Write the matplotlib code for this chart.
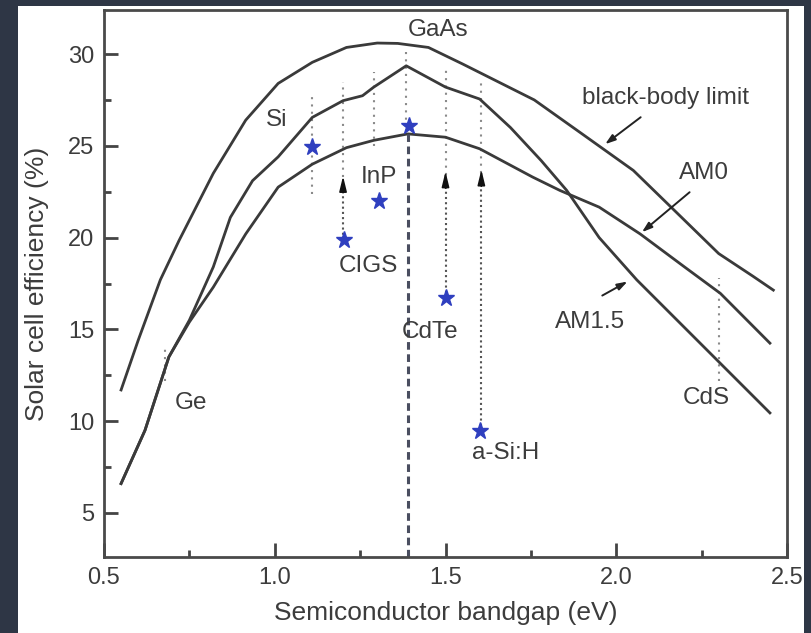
import matplotlib
matplotlib.use('Agg')
import matplotlib.pyplot as plt
from matplotlib.patches import Rectangle
from matplotlib.ticker import MultipleLocator

plt.rcParams['font.family'] = ['Liberation Sans', 'DejaVu Sans']

# efficiency limits vs bandgap
bb_x = [0.55, 0.60, 0.665, 0.72, 0.82, 0.915, 1.01, 1.11, 1.21, 1.30, 1.36, 1.45, 1.55, 1.61, 1.76, 1.90, 2.05, 2.15, 2.30, 2.40, 2.46]
bb_y = [11.7, 14.4, 17.7, 19.85, 23.5, 26.4, 28.4, 29.55, 30.36, 30.6, 30.58, 30.36, 29.46, 28.9, 27.5, 25.65, 23.66, 21.85, 19.13, 17.9, 17.14]

am15_x = [0.55, 0.62, 0.69, 0.75, 0.82, 0.87, 0.935, 1.01, 1.11, 1.20, 1.257, 1.29, 1.385, 1.50, 1.60, 1.69, 1.78, 1.855, 1.95, 2.06, 2.45]
am15_y = [6.6, 9.5, 13.5, 15.5, 18.4, 21.1, 23.1, 24.4, 26.55, 27.46, 27.73, 28.2, 29.36, 28.2, 27.55, 26.0, 24.2, 22.57, 20.0, 17.7, 10.45]

am0_x = [0.55, 0.62, 0.69, 0.75, 0.82, 0.915, 1.01, 1.11, 1.21, 1.29, 1.39, 1.50, 1.60, 1.755, 1.835, 1.95, 2.07, 2.20, 2.305, 2.45]
am0_y = [6.6, 9.5, 13.5, 15.4, 17.3, 20.2, 22.75, 24.0, 24.9, 25.3, 25.65, 25.47, 24.84, 23.3, 22.57, 21.66, 20.2, 18.4, 16.96, 14.25]

# record cell efficiencies
materials = ['Si', 'CIGS', 'InP', 'GaAs', 'CdTe', 'a-Si:H']
star_x = [1.11, 1.203, 1.306, 1.394, 1.502, 1.60]
star_y = [24.95, 19.85, 22.0, 26.1, 16.7, 9.45]

# bandgap guide lines
guide_x = [0.68, 1.11, 1.20, 1.29, 1.385, 1.50, 1.605, 2.30]
guide_lo = [12.2, 22.4, 23.3, 25.0, 26.0, 23.4, 23.5, 12.2]
guide_hi = [14.1, 27.7, 28.5, 29.0, 30.1, 29.2, 28.4, 17.8]

# arrows from measured cell up towards the limit
arrow_x = [1.20, 1.50, 1.605]
arrow_from = [19.85, 16.7, 9.45]
arrow_to = [23.35, 23.6, 23.7]

gaas_x = 1.39
gaas_top = 26.0

line_col = '#3a3a3a'
txt_col = '#3c3c3c'

fig = plt.figure(figsize=(8.11, 6.33), dpi=100)
fig.patch.set_facecolor('#2e3645')
fig.patches.append(Rectangle((18 / 811, 0), (804 - 18) / 811, (633 - 6) / 633,
                             transform=fig.transFigure, facecolor='white',
                             edgecolor='none', zorder=-5))
ax = fig.add_axes([104 / 811, 1 - 557 / 633, (787 - 104) / 811, (557 - 10) / 633])
ax.set_facecolor('white')

ax.plot(bb_x, bb_y, color=line_col, lw=2.0)
ax.plot(am15_x, am15_y, color=line_col, lw=2.0)
ax.plot(am0_x, am0_y, color=line_col, lw=2.0)

for x, lo, hi in zip(guide_x, guide_lo, guide_hi):
    ax.plot([x, x], [lo, hi], color='#8a8a8a', lw=1.5, ls=(0, (1, 2.5)), zorder=1)

for x, lo, hi in zip(arrow_x, arrow_from, arrow_to):
    ax.plot([x, x], [lo, hi - 0.5], color='#555555', lw=1.5, ls=(0, (1, 1.5)), zorder=2)
    ax.annotate('', xy=(x, hi), xytext=(x, hi - 0.9),
                arrowprops=dict(arrowstyle='-|>,head_length=0.9,head_width=0.22',
                                color='#111111', lw=1.2, shrinkA=0, shrinkB=0))

ax.plot([gaas_x, gaas_x], [2.6, gaas_top], color='#4a4e60', lw=2.2, ls=(0, (2.5, 1.5)), zorder=2)

ax.plot(star_x, star_y, ls='none', marker='*', ms=12.5, color='#2f3fbf', mec='#2f3fbf', zorder=4)

# text labels
lab_txt = ['GaAs', 'Si', 'InP', 'CIGS', 'CdTe', 'a-Si:H', 'Ge', 'CdS', 'AM1.5', 'AM0', 'black-body limit']
lab_x = [1.479, 1.006, 1.306, 1.274, 1.456, 1.676, 0.755, 2.264, 1.922, 2.257, 2.143]
lab_y = [31.3, 26.4, 23.3, 18.45, 14.85, 8.27, 11.0, 11.27, 15.4, 23.5, 27.6]
for t, x, y in zip(lab_txt, lab_x, lab_y):
    ax.text(x, y, t, ha='center', va='center', fontsize=17.5, color=txt_col, zorder=5)

# pointer arrows for curve names
ax.annotate('', xy=(1.961, 25.0), xytext=(2.078, 26.65),
            arrowprops=dict(arrowstyle='-|>,head_length=0.6,head_width=0.2', color='#222', lw=1.4))
ax.annotate('', xy=(2.069, 20.2), xytext=(2.221, 22.57),
            arrowprops=dict(arrowstyle='-|>,head_length=0.6,head_width=0.2', color='#222', lw=1.4))
ax.annotate('', xy=(2.04, 17.68), xytext=(1.952, 16.77),
            arrowprops=dict(arrowstyle='-|>,head_length=0.6,head_width=0.2', color='#222', lw=1.4))

ax.set_xlim(0.5, 2.5)
ax.set_ylim(2.6, 32.4)
ax.set_xticks([0.5, 1.0, 1.5, 2.0, 2.5])
ax.set_xticklabels(['0.5', '1.0', '1.5', '2.0', '2.5'])
ax.set_yticks([5, 10, 15, 20, 25, 30])
ax.xaxis.set_minor_locator(MultipleLocator(0.25))
ax.yaxis.set_minor_locator(MultipleLocator(2.5))
ax.tick_params(which='major', direction='in', length=10, width=2, color='#444',
               labelsize=17, labelcolor=txt_col, pad=7)
ax.tick_params(which='minor', direction='in', length=5, width=2, color='#444')
for s in ax.spines.values():
    s.set_linewidth(2)
    s.set_color('#4a4a4a')

ax.set_xlabel('Semiconductor bandgap (eV)', fontsize=19, color=txt_col, labelpad=9)
ax.set_ylabel('Solar cell efficiency (%)', fontsize=19, color=txt_col, labelpad=14)

fig.savefig('out.png', dpi=100, facecolor=fig.get_facecolor())
